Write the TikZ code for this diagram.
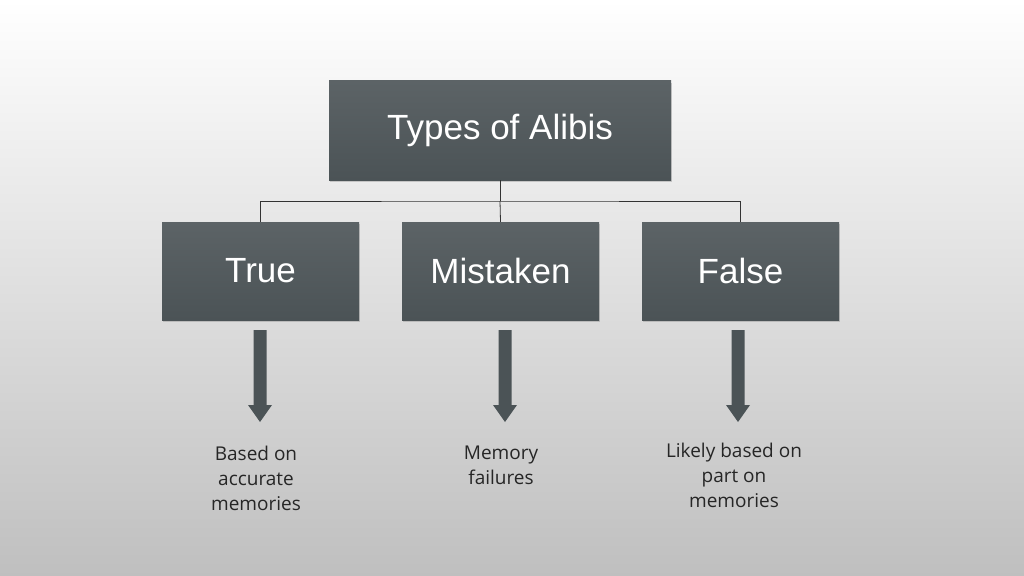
\documentclass[tikz,border=0pt]{standalone}
\usepackage{fontspec}
\setmainfont{Liberation Sans}
\newfontfamily\osans{Open Sans}
\usetikzlibrary{shadows}
\definecolor{boxc}{HTML}{4B5356}
\definecolor{boxt}{HTML}{5C6366}
\begin{document}
\begin{tikzpicture}[x=1pt,y=-1pt,
  box/.style={draw=none,top color=boxt,bottom color=boxc,text=white,minimum height=99pt,inner sep=0pt,drop shadow={shadow xshift=1pt,shadow yshift=-2pt,opacity=0.35}},
  conn/.style={draw=black!80,line width=0.8pt},
  blk/.style={fill=boxc,draw=none},
  lbl/.style={font=\osans\fontsize{19}{25}\selectfont,align=center,text=black!85}]
\shade[top color=white,bottom color=black!25] (0,0) rectangle (1024,575);
\useasboundingbox (0,0) rectangle (1024,575);
\node[box,minimum width=342pt,font=\fontsize{35}{40}\selectfont] (top) at (500,130.5) {Types of Alibis};
\node[box,minimum width=197pt,minimum height=98pt,font=\fontsize{35}{40}\selectfont] (t) at (260.5,271) {True};
\node[box,minimum width=197pt,minimum height=98pt,font=\fontsize{35}{40}\selectfont] (m) at (500.5,271) {Mistaken};
\node[box,minimum width=197pt,minimum height=98pt,font=\fontsize{35}{40}\selectfont] (f) at (740.5,271) {False};
\coordinate (j) at (500,201);
\draw[conn] (top.south) -- (j);
\draw[conn] (t.north) |- (j) -| (f.north);
\draw[conn] (j) -- (m.north);
\foreach \c/\n in {260/a1,505/a2,738/a3}{
  \fill[blk] (\c-6.5,330) -- (\c+6.5,330) -- (\c+6.5,405) -- (\c+12,405) -- (\c,422) -- (\c-12,405) -- (\c-6.5,405) -- cycle;
}
\node[lbl] (l1) at (256,478) {Based on\\accurate\\memories};
\node[lbl] (l2) at (501,465.5) {Memory\\failures};
\node[lbl] (l3) at (734,475) {Likely based on\\part on\\memories};
\end{tikzpicture}
\end{document}
